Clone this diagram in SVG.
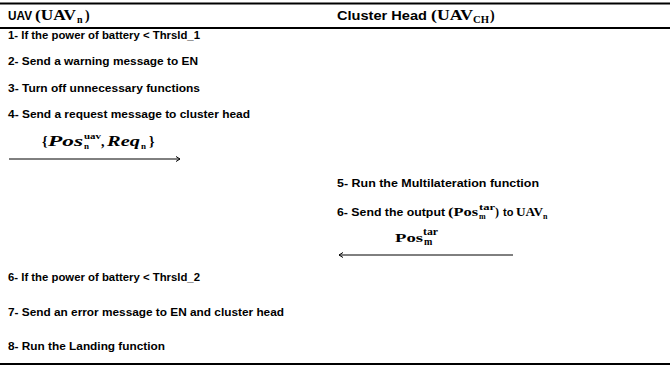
<svg xmlns="http://www.w3.org/2000/svg" width="670" height="367" viewBox="0 0 670 367">
<style>
.s{font-family:"Liberation Sans",Arial,sans-serif;font-weight:bold;font-size:11px;fill:#000}
.h{font-family:"Liberation Sans",Arial,sans-serif;font-weight:bold;font-size:12.5px;fill:#000}
.m{font-family:"Liberation Serif","Times New Roman",serif;font-weight:bold;fill:#000}
.rule{stroke:#000;stroke-width:2;fill:none}
.conn{stroke:#000;stroke-width:1;fill:none}
</style>
<defs>
<marker id="ah" markerWidth="8" markerHeight="8" refX="6" refY="4" orient="auto" markerUnits="userSpaceOnUse">
<path d="M2,1.5 L6,4 L2,6.5" fill="none" stroke="#000" stroke-width="1"/>
</marker>
</defs>
<g id="rules">
<line class="rule" x1="0" y1="3.5" x2="670" y2="3.5"/>
<line class="rule" x1="0" y1="28" x2="670" y2="28"/>
<line class="rule" x1="0" y1="364" x2="670" y2="364"/>
</g>
<g id="header-uav">
<text class="h" x="8" y="20" textLength="24" lengthAdjust="spacingAndGlyphs">UAV</text>
<text class="m" font-size="14" x="35" y="20" textLength="41" lengthAdjust="spacingAndGlyphs">(UAV</text>
<text class="m" font-size="10" x="77" y="23">n</text>
<text class="m" font-size="14" x="85" y="20">)</text>
</g>
<g id="header-ch">
<text class="h" x="337" y="20" textLength="90" lengthAdjust="spacingAndGlyphs">Cluster Head</text>
<text class="m" font-size="14" x="431" y="20" textLength="42" lengthAdjust="spacingAndGlyphs">(UAV</text>
<text class="m" font-size="10" x="473" y="23" textLength="16" lengthAdjust="spacingAndGlyphs">CH</text>
<text class="m" font-size="14" x="490" y="20">)</text>
</g>
<g id="uav-steps">
<text class="s" x="8" y="39" textLength="192" lengthAdjust="spacingAndGlyphs">1- If the power of battery &lt; Thrsld_1</text>
<text class="s" x="8" y="65" textLength="190" lengthAdjust="spacingAndGlyphs">2- Send a warning message to EN</text>
<text class="s" x="8" y="92" textLength="192" lengthAdjust="spacingAndGlyphs">3- Turn off unnecessary functions</text>
<text class="s" x="8" y="118" textLength="242" lengthAdjust="spacingAndGlyphs">4- Send a request message to cluster head</text>
</g>
<g id="msg1-label">
<text class="m" font-size="14" x="42" y="146">{</text>
<text class="m" font-size="14" font-style="italic" x="48" y="146" textLength="35" lengthAdjust="spacingAndGlyphs">Pos</text>
<text class="m" font-size="9" x="84" y="139" textLength="17" lengthAdjust="spacingAndGlyphs">uav</text>
<text class="m" font-size="9" x="84" y="149">n</text>
<text class="m" font-size="14" x="101" y="146">,</text>
<text class="m" font-size="14" font-style="italic" x="107" y="146" textLength="33" lengthAdjust="spacingAndGlyphs">Req</text>
<text class="m" font-size="9" x="141" y="149">n</text>
<text class="m" font-size="14" x="149" y="146">}</text>
</g>
<g id="ch-steps">
<text class="s" x="337" y="187" textLength="202" lengthAdjust="spacingAndGlyphs">5- Run the Multilateration function</text>
<text class="s" x="337" y="216" textLength="108" lengthAdjust="spacingAndGlyphs">6- Send the output</text>
<text class="m" font-size="12" x="448" y="216" textLength="30" lengthAdjust="spacingAndGlyphs">(Pos</text>
<text class="m" font-size="8" x="479" y="210" textLength="16" lengthAdjust="spacingAndGlyphs">tar</text>
<text class="m" font-size="8" x="479" y="219">m</text>
<text class="m" font-size="12" x="495" y="216">)</text>
<text class="s" x="503" y="216">to</text>
<text class="m" font-size="12" x="516" y="216" textLength="27" lengthAdjust="spacingAndGlyphs">UAV</text>
<text class="m" font-size="8" x="543" y="219">n</text>
</g>
<g id="msg2-label">
<text class="m" font-size="13" x="395" y="242" textLength="28" lengthAdjust="spacingAndGlyphs">Pos</text>
<text class="m" font-size="10" x="423" y="235" textLength="15" lengthAdjust="spacingAndGlyphs">tar</text>
<text class="m" font-size="10" x="424" y="245">m</text>
</g>
<g id="uav-steps-2">
<text class="s" x="8" y="281" textLength="192" lengthAdjust="spacingAndGlyphs">6- If the power of battery &lt; Thrsld_2</text>
<text class="s" x="8" y="316" textLength="276" lengthAdjust="spacingAndGlyphs">7- Send an error message to EN and cluster head</text>
<text class="s" x="8" y="350" textLength="157" lengthAdjust="spacingAndGlyphs">8- Run the Landing function</text>
</g>
<g id="connectors">
<line class="conn" x1="9" y1="159" x2="180" y2="159" marker-end="url(#ah)"/>
<line class="conn" x1="513" y1="255" x2="339" y2="255" marker-end="url(#ah)"/>
</g>
</svg>
